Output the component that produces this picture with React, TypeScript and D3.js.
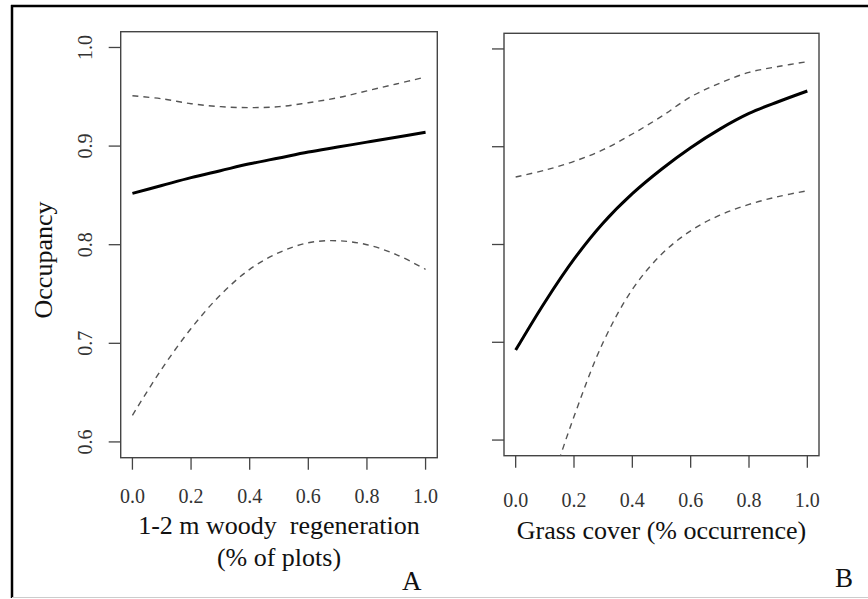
import React from 'react';
import * as d3 from 'd3';

// predictor values (proportion) at which the fitted curves were read
const xGrid = [0, 0.1, 0.2, 0.3, 0.4, 0.5, 0.6, 0.7, 0.8, 0.9, 1.0];

// panel A: 1-2 m woody regeneration
const woodyFit = [0.852, 0.860, 0.868, 0.875, 0.882, 0.888, 0.894, 0.899, 0.904, 0.909, 0.914];
const woodyUpper = [0.951, 0.948, 0.943, 0.940, 0.939, 0.940, 0.944, 0.949, 0.956, 0.963, 0.970];
const woodyLower = [0.627, 0.674, 0.715, 0.749, 0.775, 0.792, 0.802, 0.804, 0.800, 0.790, 0.775];

// panel B: grass cover
const grassFit = [0.692, 0.741, 0.785, 0.822, 0.852, 0.877, 0.899, 0.918, 0.934, 0.946, 0.957];
const grassUpper = [0.869, 0.876, 0.885, 0.897, 0.913, 0.931, 0.951, 0.965, 0.976, 0.982, 0.987];
const grassLower = [0.44, 0.535, 0.624, 0.700, 0.754, 0.790, 0.814, 0.830, 0.841, 0.849, 0.855];

const xTicks = [0, 0.2, 0.4, 0.6, 0.8, 1.0];
const yTicks = [0.6, 0.7, 0.8, 0.9, 1.0];

type Box = { left: number; top: number; right: number; bottom: number };

const Panel = ({ id, box, fit, upper, lower, yLabels, xLabel, xLabelY, tickLabelY, letter, letterX, letterY }: {
  id: string; box: Box; fit: number[]; upper: number[]; lower: number[]; yLabels: boolean;
  xLabel: string[]; xLabelY: number[]; tickLabelY: number; letter: string; letterX: number; letterY: number;
}) => {
  const x = d3.scaleLinear().domain([-0.04, 1.04]).range([box.left, box.right]);
  const y = d3.scaleLinear().domain([0.584, 1.016]).range([box.bottom, box.top]);
  const line = d3.line<number>()
    .x((_, i) => x(xGrid[i]))
    .y(d => y(d))
    .curve(d3.curveCatmullRom);
  const cx = (box.left + box.right) / 2;

  return (
    <g>
      <defs>
        <clipPath id={'clip-' + id}>
          <rect x={box.left} y={box.top} width={box.right - box.left} height={box.bottom - box.top} />
        </clipPath>
      </defs>
      <rect x={box.left} y={box.top} width={box.right - box.left} height={box.bottom - box.top}
        fill="none" stroke="#444" strokeWidth={1.4} />
      {yTicks.map(t => (
        <g key={'y' + t}>
          <line x1={box.left - 12} x2={box.left} y1={y(t)} y2={y(t)} stroke="#444" strokeWidth={1.3} />
          {yLabels && (
            <text transform={`translate(${box.left - 36},${y(t)}) rotate(-90)`} textAnchor="middle"
              dominantBaseline="central" fontSize={20} fill="#333">{t.toFixed(1)}</text>
          )}
        </g>
      ))}
      {xTicks.map(t => (
        <g key={'x' + t}>
          <line x1={x(t)} x2={x(t)} y1={box.bottom} y2={box.bottom + 12} stroke="#444" strokeWidth={1.3} />
          <text x={x(t)} y={tickLabelY} textAnchor="middle" dominantBaseline="central"
            fontSize={20} fill="#333">{t.toFixed(1)}</text>
        </g>
      ))}
      <g clipPath={`url(#clip-${id})`} fill="none">
        <path d={line(upper) || ''} stroke="#555" strokeWidth={1.4} strokeDasharray="6,5" />
        <path d={line(lower) || ''} stroke="#555" strokeWidth={1.4} strokeDasharray="6,5" />
        <path d={line(fit) || ''} stroke="#000" strokeWidth={3} />
      </g>
      {xLabel.map((s, i) => (
        <text key={s} x={cx} y={xLabelY[i]} textAnchor="middle" dominantBaseline="central"
          fontSize={26} fill="#111" style={{ whiteSpace: 'pre' }}>{s}</text>
      ))}
      <text x={letterX} y={letterY} textAnchor="middle" fontSize={27} fill="#111">{letter}</text>
    </g>
  );
};

export default function App() {
  return (
    <svg width={868} height={599} style={{ position: 'absolute', left: 0, top: 0, background: '#fff' }}
      fontFamily="'Liberation Serif', 'Times New Roman', serif">
      <rect width={868} height={599} fill="#fff" />
      <line x1={12} x2={12} y1={5} y2={598} stroke="#000" strokeWidth={2.5} />
      <line x1={11} x2={868} y1={6} y2={6} stroke="#000" strokeWidth={2.5} />
      <line x1={12} x2={868} y1={597.5} y2={597.5} stroke="#ccc" strokeWidth={1} />
      <text transform="translate(43,260) rotate(-90)" textAnchor="middle" dominantBaseline="central"
        fontSize={26} fill="#111">Occupancy</text>
      <Panel id="a" box={{ left: 120.7, top: 31.7, right: 437.3, bottom: 457.7 }}
        fit={woodyFit} upper={woodyUpper} lower={woodyLower} yLabels={true}
        xLabel={['1-2 m woody  regeneration', '(% of plots)']} xLabelY={[525, 557]} tickLabelY={495.5}
        letter="A" letterX={411.7} letterY={590} />
      <Panel id="b" box={{ left: 504, top: 33.3, right: 819, bottom: 455.7 }}
        fit={grassFit} upper={grassUpper} lower={grassLower} yLabels={false}
        xLabel={['Grass cover (% occurrence)']} xLabelY={[530]} tickLabelY={499.5}
        letter="B" letterX={844} letterY={587} />
    </svg>
  );
}
